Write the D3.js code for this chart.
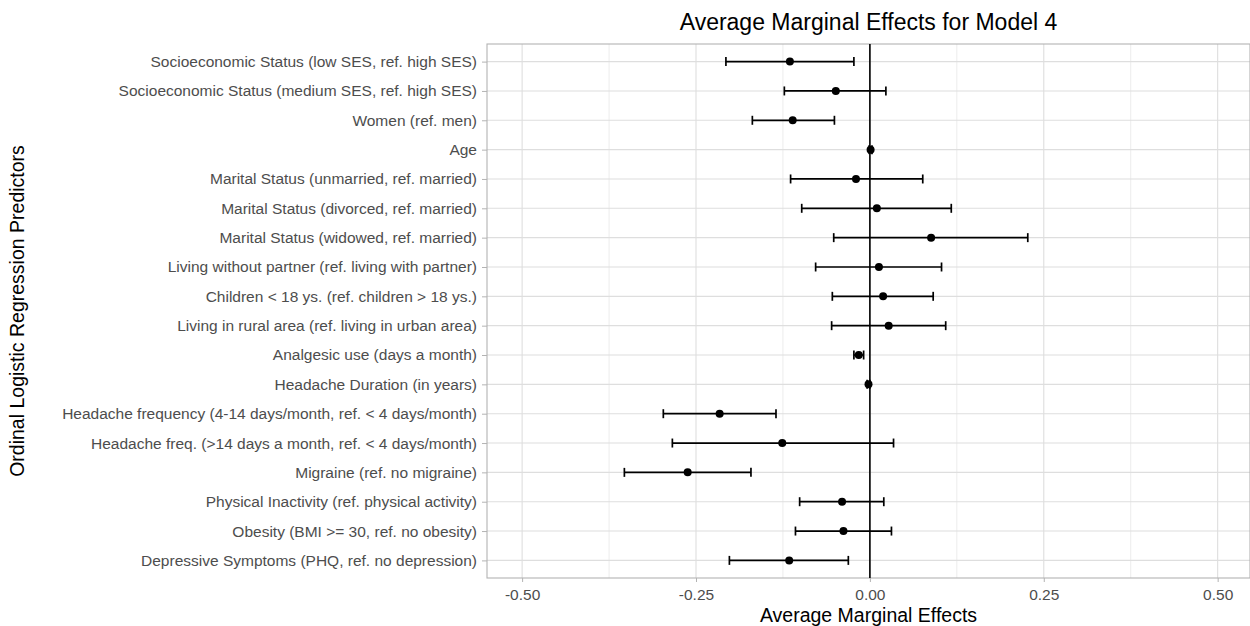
<!DOCTYPE html>
<html>
<head>
<meta charset="utf-8">
<script src="https://cdn.jsdelivr.net/npm/d3@7"></script>
<style>
  body { margin: 0; background: #fff; }
  text { font-family: "Liberation Sans", Arial, sans-serif; }
</style>
</head>
<body>
<svg id="chart" width="1250" height="626"></svg>
<script>
// predictors, top to bottom
var predictores = [
    "Socioeconomic Status (low SES, ref. high SES)",
    "Socioeconomic Status (medium SES, ref. high SES)",
    "Women (ref. men)",
    "Age",
    "Marital Status (unmarried, ref. married)",
    "Marital Status (divorced, ref. married)",
    "Marital Status (widowed, ref. married)",
    "Living without partner (ref. living with partner)",
    "Children < 18 ys. (ref. children > 18 ys.)",
    "Living in rural area (ref. living in urban area)",
    "Analgesic use (days a month)",
    "Headache Duration (in years)",
    "Headache frequency (4-14 days/month, ref. < 4 days/month)",
    "Headache freq. (>14 days a month, ref. < 4 days/month)",
    "Migraine (ref. no migraine)",
    "Physical Inactivity (ref. physical activity)",
    "Obesity (BMI >= 30, ref. no obesity)",
    "Depressive Symptoms (PHQ, ref. no depression)"
];
var ame = [-0.115, -0.049, -0.111, 0.001, -0.020, 0.010, 0.088, 0.013, 0.019, 0.027,
           -0.016, -0.002, -0.216, -0.126, -0.262, -0.040, -0.038, -0.116];
var inferior = [-0.207, -0.123, -0.169, -0.001, -0.114, -0.098, -0.052, -0.078, -0.054, -0.055,
                -0.023, -0.004, -0.297, -0.284, -0.353, -0.101, -0.107, -0.202];
var superior = [-0.023, 0.023, -0.051, 0.003, 0.076, 0.117, 0.227, 0.103, 0.091, 0.109,
                -0.009, 0.000, -0.135, 0.034, -0.171, 0.020, 0.031, -0.031];
var ticksX = [-0.50, -0.25, 0.00, 0.25, 0.50];
var ticksMenores = [-0.375, -0.125, 0.125, 0.375];

var svg = d3.select("#chart");
var margen = { left: 487, right: 0, top: 44, bottom: 48 };
var ancho = 1250, alto = 626;

var x = d3.scaleLinear().domain([-0.5505, 0.5465]).range([margen.left, ancho - margen.right]);
var y = d3.scalePoint().domain(predictores).range([margen.top, alto - margen.bottom]).padding(0.6);

var datos = predictores.map(function (p, i) {
    return { nombre: p, valor: ame[i], bajo: inferior[i], alto: superior[i] };
});

// grid
var grid = svg.append("g");
grid.selectAll("line.menor").data(ticksMenores).enter().append("line")
    .attr("x1", d => x(d)).attr("x2", d => x(d))
    .attr("y1", margen.top).attr("y2", alto - margen.bottom)
    .attr("stroke", "#ececec").attr("stroke-width", 1);
grid.selectAll("line.mayorx").data(ticksX).enter().append("line")
    .attr("x1", d => x(d)).attr("x2", d => x(d))
    .attr("y1", margen.top).attr("y2", alto - margen.bottom)
    .attr("stroke", "#dedede").attr("stroke-width", 1.1);
grid.selectAll("line.mayory").data(predictores).enter().append("line")
    .attr("x1", margen.left).attr("x2", ancho - margen.right)
    .attr("y1", d => y(d)).attr("y2", d => y(d))
    .attr("stroke", "#dedede").attr("stroke-width", 1.1);

// panel border
svg.append("rect")
    .attr("x", margen.left).attr("y", margen.top)
    .attr("width", ancho - margen.right - margen.left)
    .attr("height", alto - margen.bottom - margen.top)
    .attr("fill", "none").attr("stroke", "#b3b3b3").attr("stroke-width", 1.1);

// axes
var formato = function (d) { return d3.format(".2f")(d).replace("\u2212", "-"); };
var ejeX = svg.append("g")
    .attr("transform", "translate(0," + (alto - margen.bottom) + ")")
    .call(d3.axisBottom(x).tickValues(ticksX).tickFormat(formato).tickSize(4).tickPadding(4));
var ejeY = svg.append("g")
    .attr("transform", "translate(" + margen.left + ",0)")
    .call(d3.axisLeft(y).tickSize(5).tickPadding(5));
[ejeX, ejeY].forEach(function (eje) {
    eje.select(".domain").remove();
    eje.selectAll(".tick line").attr("stroke", "#b3b3b3");
    eje.selectAll(".tick text").attr("fill", "#4d4d4d").style("font-size", "15.5px");
});
ejeX.selectAll(".tick text").attr("dy", "0.9em");

// zero line
svg.append("line")
    .attr("x1", x(0)).attr("x2", x(0))
    .attr("y1", margen.top).attr("y2", alto - margen.bottom)
    .attr("stroke", "#000").attr("stroke-width", 1.6);

// error bars
var barras = svg.append("g").selectAll("g").data(datos).enter().append("g");
barras.append("line")
    .attr("x1", d => x(d.bajo)).attr("x2", d => x(d.alto))
    .attr("y1", d => y(d.nombre)).attr("y2", d => y(d.nombre))
    .attr("stroke", "#000").attr("stroke-width", 1.7);
barras.append("line")
    .attr("x1", d => x(d.bajo)).attr("x2", d => x(d.bajo))
    .attr("y1", d => y(d.nombre) - 4.5).attr("y2", d => y(d.nombre) + 4.5)
    .attr("stroke", "#000").attr("stroke-width", 1.7);
barras.append("line")
    .attr("x1", d => x(d.alto)).attr("x2", d => x(d.alto))
    .attr("y1", d => y(d.nombre) - 4.5).attr("y2", d => y(d.nombre) + 4.5)
    .attr("stroke", "#000").attr("stroke-width", 1.7);
barras.append("circle")
    .attr("cx", d => x(d.valor)).attr("cy", d => y(d.nombre))
    .attr("r", 4).attr("fill", "#000");

// titles
svg.append("text")
    .attr("x", (margen.left + ancho - margen.right) / 2).attr("y", 30)
    .attr("text-anchor", "middle").style("font-size", "23px").attr("fill", "#000")
    .text("Average Marginal Effects for Model 4");
svg.append("text")
    .attr("x", (margen.left + ancho - margen.right) / 2).attr("y", 622)
    .attr("text-anchor", "middle").style("font-size", "19.5px").attr("fill", "#000")
    .text("Average Marginal Effects");
svg.append("text")
    .attr("transform", "translate(24," + ((margen.top + alto - margen.bottom) / 2) + ") rotate(-90)")
    .attr("text-anchor", "middle").style("font-size", "19.5px").attr("fill", "#000")
    .text("Ordinal Logistic Regression Predictors");
</script>
</body>
</html>
